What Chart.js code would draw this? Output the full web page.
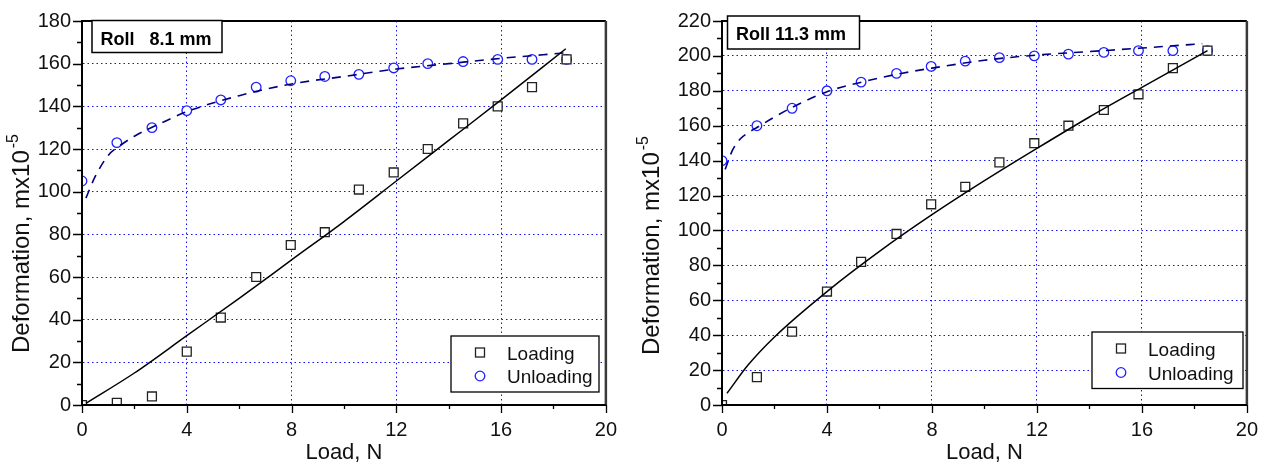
<!DOCTYPE html>
<html lang="en">
<head>
<meta charset="UTF-8">
<title>Roll deformation vs load</title>
<script src="https://cdn.jsdelivr.net/npm/chart.js"></script>
<style>
    body { margin: 0; background: #fff; }
    .wrap { position: relative; width: 1271px; height: 466px; }
    canvas { position: absolute; top: 0; }
    #rollSmall { left: 0; }
    #rollLarge { left: 630px; }
</style>
</head>
<body>
<div class="wrap">
    <canvas id="rollSmall" width="630" height="466"></canvas>
    <canvas id="rollLarge" width="641" height="466"></canvas>
</div>
<script>
// load steps, N (same for both rolls)
const loadN = [0, 1.33, 2.67, 4, 5.3, 6.65, 7.97, 9.27, 10.57, 11.9, 13.2, 14.55, 15.87, 17.18, 18.5];

// Roll 8.1 mm
const smallLoading   = [0, 1, 4, 25, 41, 60, 75, 81, 101, 109, 120, 132, 140, 149, 162];
const smallUnloading = [105, 123, 130, 138, 143, 149, 152, 154, 155, 158, 160, 161, 162, 162, 162];
const smallLoadFitX   = [0.15, 2, 4, 6, 8, 10, 12, 14, 16, 18.47];
const smallLoadFitY   = [0.8, 15, 32.5, 50, 68, 86, 105, 124, 143, 167];
const smallUnloadFitX = [0.15, 0.5, 1, 1.5, 2, 3, 4, 6, 8, 10, 12, 14, 16, 18.4];
const smallUnloadFitY = [97, 107, 117, 122, 126, 132, 137.5, 145, 150.5, 154, 157.5, 160, 162.5, 165];

// Roll 11.3 mm
const largeLoading   = [0, 16, 42, 65, 82, 98, 115, 125, 139, 150, 160, 169, 178, 193, 203];
const largeUnloading = [140, 160, 170, 180, 185, 190, 194, 197, 199, 200, 201, 202, 203, 203, 203];
const largeLoadFitX   = [0.19, 1, 2, 4, 6, 8, 10, 12, 14, 16, 18.5];
const largeLoadFitY   = [6.7, 23, 39, 65, 88, 109, 128.5, 147, 165, 182, 203];
const largeUnloadFitX = [0.12, 0.4, 0.7, 1, 1.33, 2, 2.67, 4, 5.33, 6.67, 8, 10, 12, 14, 16, 18.3];
const largeUnloadFitY = [135, 146, 152.5, 156, 159, 165, 170.5, 179.5, 185, 189.5, 193, 197.5, 200.5, 202.5, 204.5, 207];

// x ticks every 2 (labelled every 4), y ticks every 10 (labelled every 20)
const xMax = 20;
const xStep = 2, xLabelStep = 4;
const yStep = 10, yLabelStep = 20;

const FONT = '"Liberation Sans", Arial, sans-serif';
const GRID_BLUE = '#1010ff';
const SQUARE_COLOR = '#222222';
const CIRCLE_COLOR = '#2020ff';
const FIT_NAVY = '#000080';

function pairs(xs, ys) {
    return xs.map((x, i) => ({ x: x, y: ys[i] }));
}

// frame, minor/major tick marks, axis titles, roll label and legend
const decoPlugin = {
    id: 'deco',
    afterDraw(chart, args, opts) {
        const ctx = chart.ctx;
        const a = chart.chartArea;
        const xs = chart.scales.x, ys = chart.scales.y;
        ctx.save();

        // tick marks, pointing outwards
        ctx.strokeStyle = '#000';
        ctx.lineWidth = 1.3;
        ctx.beginPath();
        ys.ticks.forEach(t => {
            const py = Math.round(ys.getPixelForValue(t.value)) + 0.5;
            const len = t.value % yLabelStep === 0 ? 9 : 5;
            ctx.moveTo(a.left - len, py);
            ctx.lineTo(a.left, py);
        });
        xs.ticks.forEach(t => {
            const px = Math.round(xs.getPixelForValue(t.value)) + 0.5;
            const len = t.value % xLabelStep === 0 ? 8 : 4;
            ctx.moveTo(px, a.bottom);
            ctx.lineTo(px, a.bottom + len);
        });
        ctx.stroke();

        // frame
        ctx.lineWidth = 2;
        ctx.strokeStyle = '#000';
        ctx.beginPath();
        ctx.moveTo(a.left, a.bottom);
        ctx.lineTo(a.left, a.top);
        ctx.lineTo(a.right, a.top);
        ctx.stroke();
        ctx.strokeStyle = '#3a3a3a';
        ctx.lineWidth = 2.5;
        ctx.beginPath();
        ctx.moveTo(a.right, a.top);
        ctx.lineTo(a.right, a.bottom);
        ctx.stroke();
        ctx.strokeStyle = '#000';
        ctx.lineWidth = 2;
        ctx.beginPath();
        ctx.moveTo(a.left, a.bottom);
        ctx.lineTo(a.right, a.bottom);
        ctx.stroke();

        // x title
        ctx.fillStyle = '#111';
        ctx.font = '22px ' + FONT;
        ctx.textAlign = 'center';
        ctx.textBaseline = 'alphabetic';
        ctx.fillText('Load, N', (a.left + a.right) / 2, 459);

        // y title with superscript
        ctx.save();
        ctx.translate(opts.yTitleX, opts.yTitleStart);
        ctx.rotate(-Math.PI / 2);
        ctx.textAlign = 'left';
        ctx.font = '24px ' + FONT;
        const main = 'Deformation, mx10';
        ctx.fillText(main, 0, 0);
        const w = ctx.measureText(main).width;
        ctx.font = '16px ' + FONT;
        ctx.fillText('-5', w + 2, -11);
        ctx.restore();

        // roll label box
        const b = opts.labelBox;
        ctx.fillStyle = '#fff';
        ctx.fillRect(b.x, b.y, b.w, b.h);
        ctx.strokeStyle = '#000';
        ctx.lineWidth = 1.5;
        ctx.strokeRect(b.x, b.y, b.w, b.h);
        ctx.fillStyle = '#000';
        ctx.font = 'bold 18px ' + FONT;
        ctx.textAlign = 'left';
        ctx.fillText(opts.label, b.x + 8.5, b.baseline);

        // legend
        const l = opts.legendBox;
        ctx.fillStyle = '#fff';
        ctx.fillRect(l.x, l.y, l.w, l.h);
        ctx.strokeStyle = '#000';
        ctx.lineWidth = 1.3;
        ctx.strokeRect(l.x, l.y, l.w, l.h);
        const sx = l.x + 29;
        ctx.strokeStyle = SQUARE_COLOR;
        ctx.lineWidth = 1.3;
        ctx.strokeRect(sx - 4.5, l.row1 - 4.5, 9, 9);
        ctx.strokeStyle = CIRCLE_COLOR;
        ctx.beginPath();
        ctx.arc(sx, l.row2, 4.8, 0, Math.PI * 2);
        ctx.stroke();
        ctx.fillStyle = '#111';
        ctx.font = '19px ' + FONT;
        ctx.fillText('Loading', l.x + 56, l.row1 + 7);
        ctx.fillText('Unloading', l.x + 56, l.row2 + 7);

        ctx.restore();
    }
};

function makeChart(id, cfg) {
    return new Chart(document.getElementById(id), {
        type: 'scatter',
        data: {
            datasets: [
                {
                    type: 'line',
                    data: pairs(cfg.loadFitX, cfg.loadFitY),
                    borderColor: '#000',
                    borderWidth: 1.5,
                    pointRadius: 0,
                    fill: false,
                    cubicInterpolationMode: 'monotone',
                    order: 0
                },
                {
                    type: 'line',
                    data: pairs(cfg.unloadFitX, cfg.unloadFitY),
                    borderColor: FIT_NAVY,
                    borderWidth: 1.6,
                    borderDash: [9, 7],
                    pointRadius: 0,
                    fill: false,
                    cubicInterpolationMode: 'monotone',
                    order: 0
                },
                {
                    label: 'Loading',
                    data: pairs(loadN, cfg.loading),
                    pointStyle: 'rect',
                    pointRadius: 6.3,
                    pointBorderWidth: 1.3,
                    pointBorderColor: SQUARE_COLOR,
                    pointBackgroundColor: '#fff',
                    order: 1
                },
                {
                    label: 'Unloading',
                    data: pairs(loadN, cfg.unloading),
                    pointStyle: 'circle',
                    pointRadius: 4.8,
                    pointBorderWidth: 1.3,
                    pointBorderColor: CIRCLE_COLOR,
                    pointBackgroundColor: '#fff',
                    order: 1
                }
            ]
        },
        options: {
            responsive: false,
            animation: false,
            devicePixelRatio: 1,
            layout: { padding: { top: cfg.padTop, right: cfg.padRight, left: 0, bottom: 0 } },
            plugins: {
                legend: { display: false },
                tooltip: { enabled: false },
                deco: cfg.deco
            },
            scales: {
                x: {
                    type: 'linear',
                    min: 0, max: xMax,
                    afterFit: s => { s.height = 61; },
                    ticks: {
                        stepSize: xStep,
                        autoSkip: false,
                        maxRotation: 0,
                        padding: 13,
                        color: '#111',
                        font: { family: FONT, size: 20 },
                        callback: v => (v % xLabelStep === 0 ? v : '')
                    },
                    grid: {
                        drawTicks: false,
                        lineWidth: 1,
                        color: c => (c.tick && c.tick.value % xLabelStep === 0 && c.tick.value > 0 && c.tick.value < xMax) ? GRID_BLUE : 'rgba(0,0,0,0)'
                    },
                    border: { display: true, color: '#000', width: 2, dash: [1.5, 3] }
                },
                y: {
                    type: 'linear',
                    min: 0, max: cfg.yMax,
                    afterFit: s => { s.width = cfg.yAxisWidth; },
                    ticks: {
                        stepSize: yStep,
                        autoSkip: false,
                        padding: 11,
                        color: '#111',
                        font: { family: FONT, size: 20, lineHeight: 1 },
                        callback: v => (v % yLabelStep === 0 ? v : '')
                    },
                    grid: {
                        drawTicks: false,
                        lineWidth: 1,
                        color: c => (c.tick && c.tick.value % yLabelStep === 0 && c.tick.value > 0 && c.tick.value < cfg.yMax) ? GRID_BLUE : 'rgba(0,0,0,0)'
                    },
                    border: { display: true, color: '#000', width: 2, dash: [1.5, 3] }
                }
            }
        },
        plugins: [decoPlugin]
    });
}

makeChart('rollSmall', {
    yMax: 180,
    loading: smallLoading, unloading: smallUnloading,
    loadFitX: smallLoadFitX, loadFitY: smallLoadFitY,
    unloadFitX: smallUnloadFitX, unloadFitY: smallUnloadFitY,
    yAxisWidth: 82, padTop: 16, padRight: 24,
    deco: {
        label: 'Roll   8.1 mm',
        labelBox: { x: 92, y: 20.5, w: 130, h: 32, baseline: 44.5 },
        legendBox: { x: 451, y: 336, w: 148, h: 56, row1: 352.5, row2: 376 },
        yTitleX: 28.5, yTitleStart: 353
    }
});

makeChart('rollLarge', {
    yMax: 220,
    loading: largeLoading, unloading: largeUnloading,
    loadFitX: largeLoadFitX, loadFitY: largeLoadFitY,
    unloadFitX: largeUnloadFitX, unloadFitY: largeUnloadFitY,
    yAxisWidth: 92, padTop: 11, padRight: 20,
    deco: {
        label: 'Roll 11.3 mm',
        labelBox: { x: 97.5, y: 16, w: 132, h: 33, baseline: 40 },
        legendBox: { x: 462, y: 332, w: 151, h: 56.5, row1: 348.5, row2: 372.5 },
        yTitleX: 29, yTitleStart: 355
    }
});
</script>
</body>
</html>
